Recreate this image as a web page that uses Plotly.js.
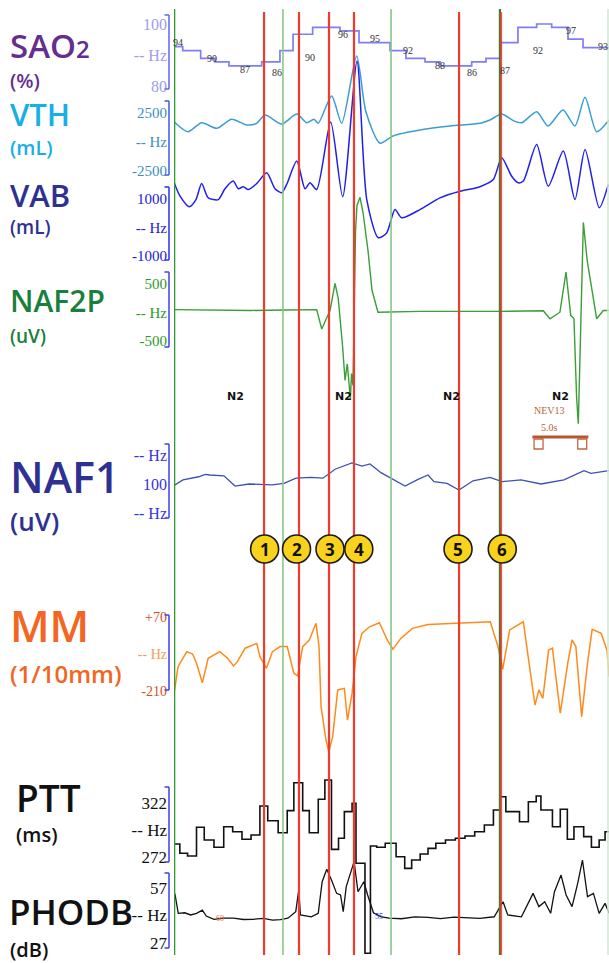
<!DOCTYPE html>
<html>
<head>
<meta charset="utf-8">
<script src="https://cdn.plot.ly/plotly-3.0.1.min.js"></script>
<style>
html,body{margin:0;padding:0;background:#fff;}
#chart{width:609px;height:963px;}
</style>
</head>
<body>
<div id="chart"></div>
<script>
// ---------------- DATA (time in seconds) ----------------
const tSao2 = [0, 0.78, 2.38, 3.66, 4.91, 7.83, 9.46, 10.63, 12.38, 14.82, 16.52, 19.29, 20.71, 22.41, 23.75, 26.58, 27.86, 29.17, 30.71, 32.38, 33.72, 35.18, 36.52, 38.84];
const sao2  = [92.7, 91.4, 88.9, 87.8, 86.5, 87.8, 91.4, 96.7, 98.9, 97.8, 94.0, 91.4, 88.9, 87.8, 86.5, 87.8, 88.9, 94.0, 98.9, 100, 98.9, 95.1, 92.4, 92.4];
const sao2LabelT = [0.36, 3.37, 6.34, 9.17, 12.14, 15.06, 17.95, 20.89, 23.75, 26.58, 29.55, 32.47, 35.42, 38.28];
const sao2LabelV = [94.0, 88.9, 85.2, 84.3, 89.3, 96.7, 95.4, 91.6, 86.5, 84.3, 84.9, 91.6, 97.8, 92.9];
const sao2LabelText = ['94','90','87','86','90','96','95','92','88','86','87','92','97','93'];

const tVth = [0, 1.25, 2.47, 3.81, 5.15, 6.49, 7.38, 8.13, 9.62, 10.96, 11.85, 12.5, 12.88, 14.08, 14.97, 16.31, 17.14, 18.39, 19.55, 21.96, 24.64, 27.32, 28.21, 29.26, 30.29, 31.04, 32.38, 33.39, 34.73, 35.8, 36.7, 37.74, 38.84];
const vth  = [1750, 890, 1660, 1180, 1960, 1470, 1610, 2330, 1550, 2410, 1660, 1960, 1610, 3970, 1610, 7410, 2590, -110, 520, 1030, 1380, 1610, 1900, 2410, 1840, 1660, 2610, 1380, 2760, 1380, 3850, 890, 1900];

const tVab = [0, 0.54, 1.37, 1.96, 2.47, 3.06, 3.96, 4.55, 5.29, 5.74, 6.19, 6.63, 7.38, 8.28, 9.02, 9.62, 10.06, 10.96, 11.7, 12.14, 12.74, 13.99, 15.06, 16.34, 17.21, 18.24, 18.99, 19.73, 20.33, 21.96, 23.75, 25.54, 27.32, 28.51, 29.26, 30.15, 30.74, 31.19, 32.38, 33.42, 34.76, 35.8, 36.7, 37.97, 38.78];
const vab  = [1590, 1100, 730, 980, 1540, 1040, 980, 1360, 1630, 1360, 1430, 1330, 1540, 1920, 1360, 1220, 1510, 2330, 1360, 1570, 1330, 3700, 1080, 5830, 980, -360, -190, 630, 340, 630, 1040, 1270, 1430, 1680, 2450, 1800, 1570, 1630, 2910, 1450, 2680, 980, 2740, 690, 1510];

const tNaf2p = [0, 3.0, 6.79, 10.0, 12.74, 13.19, 13.63, 13.93, 14.38, 14.67, 15.06, 15.27, 15.47, 15.65, 15.75, 15.85, 15.98, 16.21, 16.34, 16.61, 16.88, 17.32, 17.68, 18.21, 21.96, 29.11, 32.97, 33.57, 34.46, 35.0, 35.42, 35.71, 35.95, 36.1, 36.55, 36.9, 37.74, 38.33, 38.84];
const naf2p  = [50, 40, 35, 45, 50, -290, -110, 35, 510, 240, -610, -1190, -900, -1310, -1510, -1070, -1280, 1440, 1880, 2020, 1750, 1090, 390, 5, 20, 20, 30, -110, 5, 710, -50, -105, -1500, -1950, 1580, 900, -110, 35, 35];

const tNaf1 = [0, 0.09, 0.8, 1.5, 2.2, 2.8, 3.21, 4.46, 5.45, 6.7, 8.75, 9.82, 10.89, 12.23, 13.3, 14.38, 15.89, 16.79, 17.5, 18.48, 19.55, 20.63, 21.79, 22.68, 23.21, 24.38, 25.45, 26.7, 28.21, 29.29, 30.98, 32.77, 34.82, 36.61, 37.23, 38.66, 38.84];
const naf1  = [-3, -3, 14, 20, 25, 33, 31, 28, -7, 0, -3, 2, 20, 23, 20, 51, 73, 62, 69, 39, 16, -7, 16, 31, 8, 2, -21, 11, 23, 8, 14, 0, 14, 46, 37, 46, 46];

const tMm = [0.03, 0.36, 1.14, 1.66, 2.01, 2.53, 3.05, 4.09, 4.79, 5.31, 5.66, 6.35, 7.39, 7.67, 8.26, 8.79, 9.48, 10.11, 10.7, 11.04, 11.49, 12.08, 12.68, 12.95, 13.13, 13.57, 13.82, 14.17, 14.62, 15.21, 15.49, 15.9, 16.25, 16.78, 17.46, 18.34, 19.04, 19.55, 20.25, 21.29, 22.68, 25.45, 28.24, 28.93, 29.35, 29.97, 31.19, 31.54, 32.23, 32.58, 32.93, 33.45, 33.79, 34.49, 35.18, 35.54, 35.88, 36.4, 36.92, 37.34, 38.14, 38.66, 38.84];
const mm  = [-213, -118, -61, -70, -105, -179, -86, -61, -86, -115, -99, -48, -30, -80, -124, -61, -42, -42, -143, -153, -42, -17, 46, -42, -269, -395, -440, -383, -206, -200, -320, -219, -80, 8, 33, 48, -17, -52, -11, 27, 42, 48, 52, -42, -128, 21, 52, -55, -263, -206, -238, -55, -48, -294, -99, -17, -42, -307, -105, 23, 8, -55, -156];

const tPtt = [0, 0.52, 1.21, 2.01, 2.7, 3.57, 4.44, 5.24, 6.07, 6.88, 7.67, 8.37, 9.3, 10.11, 10.7, 11.49, 12.08, 12.88, 13.47, 14.06, 14.69, 15.21, 15.9, 16.25, 17.05, 17.54, 18.1, 18.86, 19.83, 20.6, 21.22, 21.98, 22.68, 23.38, 24.24, 25.12, 25.98, 26.85, 27.71, 28.52, 29.11, 29.63, 30.85, 31.64, 32.34, 32.76, 33.79, 34.49, 35.12, 35.71, 36.58, 37.27, 37.96, 38.49, 38.84];
const ptt  = [284.2, 275.7, 273.2, 299.5, 287.8, 281.2, 300, 295.4, 288.5, 292.4, 319, 305.5, 294.5, 314.7, 340.3, 314.7, 294.5, 325.1, 342.8, 279.3, 289.4, 313.8, 321.5, 266.5, 184.1, 282.3, 281.2, 284.8, 272.5, 261.9, 269.5, 275, 280.2, 284.8, 287.8, 289.4, 291.5, 295.4, 301.6, 315.3, 327.5, 313.8, 304.6, 322.9, 328.1, 315.3, 300, 316, 288.5, 300, 290.9, 281.2, 287.8, 295.4, 295.4];

const tPhodb = [0, 0.1, 0.38, 0.96, 1.49, 2.01, 2.53, 2.88, 3.57, 4.4, 5.31, 6.2, 7.04, 8.0, 8.79, 9.5, 10.17, 10.87, 11.14, 11.29, 12.26, 12.88, 13.23, 13.64, 14.06, 14.52, 14.87, 15.11, 15.38, 15.73, 16.08, 16.43, 16.95, 17.29, 17.81, 18.51, 19.21, 20.3, 21.5, 22.68, 23.8, 25.0, 26.16, 27.3, 28.59, 29.04, 29.38, 29.8, 31.02, 32.06, 32.58, 33.1, 33.63, 33.97, 34.56, 35.01, 35.54, 36.05, 36.47, 36.92, 37.45, 37.96, 38.49, 38.84];
const phodb  = [55, 53.3, 43.2, 43.5, 42.3, 43.2, 45, 41.7, 39.9, 40.6, 40.5, 39.8, 39.9, 40.4, 39.5, 39.7, 40.5, 44.1, 56.1, 42.3, 41.3, 43.2, 60.6, 67.5, 61.6, 54.2, 53.3, 44.1, 57.9, 64.3, 71.7, 55.1, 60.6, 53.3, 43.5, 41.3, 40.5, 40.2, 41.2, 41, 40.3, 41.1, 40.8, 40.4, 41.3, 46, 49.6, 42.3, 41.3, 54.2, 46.9, 49.6, 43.2, 55.1, 64.3, 53.3, 46.9, 59.8, 72.6, 52.4, 54.2, 43.2, 48.7, 43.2];

// events / annotations
const epochT = [0, 9.73, 19.38, 29.1, 38.75];
const eventT = [8.04, 11.16, 13.84, 16.07, 25.45, 29.2];
const eventNum = ['1','2','3','4','5','6'];
const eventLabelT = [8.09, 10.94, 13.93, 16.5, 25.36, 29.31];
const stageT = [5.45, 15.12, 24.79, 34.55];
const stageText = ['N2','N2','N2','N2'];
const scaleBarT = [32.0, 37.0];
const scaleBarText = '5.0s';
const eventCode = 'NEV13';

// ---------------- LAYOUT HELPERS ----------------
const W = 609, H = 963, X0 = 174;
const T_MAX = 38.84;
const py = p => 1 - p / H;            // pixel row -> paper y
const px = p => p / W;                // pixel col -> paper x

function rangeFor(vTop, pTop, vBot, pBot) {
  const k = (vTop - vBot) / (pBot - pTop);
  return [vTop - (H - pTop) * k, vTop + pTop * k];
}

const channels = [
  {name:'SAO2', t:tSao2, v:sao2, shape:'hv', color:'#7e7ef6', width:1.7,
   cal:[100,24,80,86], tickV:[100,90,80], tickT:['100','-- Hz','80'], tickColor:'#9d9df2', tickSize:16,
   bracket:[15,89], bColor:'#6c6cf0'},
  {name:'VTH', t:tVth, v:vth, shape:'spline', color:'#3b9dd3', width:1.5,
   cal:[2500,113,-2500,171], tickV:[2500,0,-2500], tickT:['2500','-- Hz','-2500'], tickColor:'#3c8fc4', tickSize:15,
   bracket:[101,175], bColor:'#4a62e6'},
  {name:'VAB', t:tVab, v:vab, shape:'spline', color:'#2020ee', width:1.5,
   cal:[1000,199,-1000,256], tickV:[1000,0,-1000], tickT:['1000','-- Hz','-1000'], tickColor:'#2020d8', tickSize:15,
   bracket:[187,260], bColor:'#3a3aee'},
  {name:'NAF2P', t:tNaf2p, v:naf2p, shape:'linear', color:'#3a9e3a', width:1.4,
   cal:[500,284,-500,341], tickV:[500,0,-500], tickT:['500','-- Hz','-500'], tickColor:'#2a9a2a', tickSize:15,
   bracket:[272,347], bColor:'#4a4aee'},
  {name:'NAF1', t:tNaf1, v:naf1, shape:'linear', color:'#3c50b4', width:1.3,
   cal:[100,455,-100,513], tickV:[100,0,-100], tickT:['-- Hz','100','-- Hz'], tickColor:'#3434de', tickSize:16,
   bracket:[444,518], bColor:'#4a4aee'},
  {name:'MM', t:tMm, v:mm, shape:'linear', color:'#ff8a1c', width:1.5,
   cal:[70,617,-210,691], tickV:[70,-70,-210], tickT:['+70','<span style="color:#f0a050">-- Hz</span>','-210'], tickColor:'#d2521e', tickSize:14,
   bracket:[615,690], bColor:'#4a4aee'},
  {name:'PTT', t:tPtt, v:ptt, shape:'hv', color:'#111111', width:1.6,
   cal:[322,802.7,272,857.3], tickV:[322,297,272], tickT:['322','-- Hz','272'], tickColor:'#111111', tickSize:17,
   bracket:[787,862], bColor:'#4a4aee'},
  {name:'PHODB', t:tPhodb, v:phodb, shape:'linear', color:'#111111', width:1.3,
   cal:[57,888.3,27,942.7], tickV:[57,42,27], tickT:['57','-- Hz','27'], tickColor:'#111111', tickSize:17,
   bracket:[873,948], bColor:'#4a4aee'}
];

const traces = [];
const layout = {
  width: W, height: H,
  margin: {l:0, r:0, t:0, b:0},
  paper_bgcolor: '#ffffff', plot_bgcolor: '#ffffff',
  showlegend: false,
  xaxis: {domain:[X0/W, 1], range:[0, T_MAX], visible:false, fixedrange:true},
  shapes: [], annotations: []
};

channels.forEach((c, i) => {
  const axName = i === 0 ? 'yaxis' : 'yaxis' + (i + 1);
  const axRef = i === 0 ? 'y' : 'y' + (i + 1);
  const ax = {
    domain:[0,1], range: rangeFor(c.cal[0], c.cal[1], c.cal[2], c.cal[3]),
    showgrid:false, zeroline:false, showline:false, ticks:'',
    tickmode:'array', tickvals:c.tickV, ticktext:c.tickT,
    tickfont:{family:'Liberation Serif, serif', size:c.tickSize, color:c.tickColor},
    ticklabelstandoff: 6, anchor:'x', side:'left', fixedrange:true
  };
  if (i > 0) ax.overlaying = 'y';
  layout[axName] = ax;
  traces.push({
    type:'scatter', mode:'lines', x:c.t, y:c.v, yaxis:axRef, xaxis:'x',
    line:{color:c.color, width:c.width, shape:c.shape, smoothing: c.shape === 'spline' ? 0.7 : undefined},
    hoverinfo:'skip', cliponaxis:false
  });
  // calibration bracket
  const bx = px(169), cap = px(164.5);
  const b = {xref:'paper', yref:'paper', type:'line', line:{color:c.bColor, width:1.6}};
  layout.shapes.push(Object.assign({}, b, {x0:bx, x1:bx, y0:py(c.bracket[0]), y1:py(c.bracket[1])}));
  layout.shapes.push(Object.assign({}, b, {x0:cap, x1:bx, y0:py(c.bracket[0]), y1:py(c.bracket[0])}));
  layout.shapes.push(Object.assign({}, b, {x0:cap, x1:bx, y0:py(c.bracket[1]), y1:py(c.bracket[1])}));
});

// SpO2 step value labels
sao2LabelT.forEach((t, i) => {
  layout.annotations.push({xref:'x', yref:'y', x:t, y:sao2LabelV[i], text:sao2LabelText[i], showarrow:false,
    font:{family:'Liberation Serif, serif', size:10, color:'#333333'}});
});

// epoch boundary lines (green)
const epochStyle = [
  {color:'#2f9a2f', width:2.6},
  {color:'#86c986', width:1.6},
  {color:'#86c986', width:1.6},
  {color:'#3f7f2f', width:2.2},
  {color:'#d2ead2', width:1.6}
];
epochT.forEach((t, i) => {
  layout.shapes.push({type:'line', xref:'x', yref:'paper', x0:t, x1:t, y0:py(955), y1:py(9),
    line:epochStyle[i], layer:'above'});
});
// event lines (red)
eventT.forEach((t, i) => {
  layout.shapes.push({type:'line', xref:'x', yref:'paper', x0:t, x1:t, y0:py(955), y1:py(12),
    line:{color: i === 5 ? 'rgba(226,58,40,0.85)' : '#ef3b2c', width:2.2}, layer:'above'});
});
// event number circles
eventLabelT.forEach((t, i) => {
  layout.shapes.push({type:'circle', xref:'x', yref:'paper', xsizemode:'pixel', ysizemode:'pixel',
    xanchor:t, yanchor:py(549), x0:-14, x1:14, y0:-14, y1:14,
    fillcolor:'#f8d21c', line:{color:'#1a1a1a', width:1.6}, layer:'above'});
  layout.annotations.push({xref:'x', yref:'paper', x:t, y:py(549.5), text:'<b>'+eventNum[i]+'</b>', showarrow:false,
    font:{family:'Open Sans, sans-serif', size:17, color:'#111111'}});
});

// sleep stage labels
stageT.forEach((t, i) => {
  layout.annotations.push({xref:'x', yref:'paper', x:t, y:py(396), text:'<b>'+stageText[i]+'</b>', showarrow:false,
    font:{family:'DejaVu Sans, sans-serif', size:11, color:'#111111'}});
});

// scale bar
const sbColor = '#b8552c';
layout.shapes.push({type:'line', xref:'x', yref:'paper', x0:scaleBarT[0], x1:scaleBarT[1], y0:py(437), y1:py(437),
  line:{color:sbColor, width:3}, layer:'above'});
[[0.15, 0.95], [4.05, 4.85]].forEach(([a, b]) => {
  layout.shapes.push({type:'rect', xref:'x', yref:'paper', x0:scaleBarT[0]+a, x1:scaleBarT[0]+b, y0:py(449), y1:py(439),
    line:{color:'#c4663e', width:1.3}, fillcolor:'#ffffff', layer:'above'});
});
layout.annotations.push({xref:'x', yref:'paper', x:33.57, y:py(411), text:eventCode, showarrow:false,
  font:{family:'Liberation Serif, serif', size:10, color:'#b5653a'}});
layout.annotations.push({xref:'x', yref:'paper', x:33.57, y:py(427), text:scaleBarText, showarrow:false,
  font:{family:'Liberation Serif, serif', size:10, color:'#b5653a'}});

// tiny markers on PHODB
layout.annotations.push({xref:'x', yref:'y8', x:4.09, y:40.6, text:'60', showarrow:false,
  font:{family:'Liberation Serif, serif', size:8, color:'#e06a30'}});
layout.annotations.push({xref:'x', yref:'y8', x:18.34, y:41.5, text:'55', showarrow:false,
  font:{family:'Liberation Serif, serif', size:8, color:'#3a3aee'}});

// channel titles on the left
const F = 'Open Sans, sans-serif';
const leftLabels = [
  ['SAO<span style="font-size:24px">2</span>', 8, 45, 33, '#652d8e'],
  ['(%)', 8, 80, 20, '#652d8e'],
  ['VTH', 8, 114, 31, '#18aee6'],
  ['(mL)', 8, 147, 20, '#18aee6'],
  ['VAB', 8, 195, 31, '#2e3192'],
  ['(mL)', 8, 227, 19, '#2e3192'],
  ['NAF2P', 8, 300, 30, '#1a7f3c'],
  ['(uV)', 8, 336, 19, '#1a7f3c'],
  ['NAF1', 8, 476, 43, '#2e3192'],
  ['(uV)', 8, 521, 26, '#2e3192'],
  ['MM', 8, 625, 43, '#f26522'],
  ['(1/10mm)', 8, 673, 24, '#f26522'],
  ['PTT', 14, 797, 37, '#111111'],
  ['(ms)', 14, 834, 20, '#111111'],
  ['PHODB', 7, 911, 35, '#111111'],
  ['(dB)', 8, 949, 20, '#111111']
];
leftLabels.forEach(([txt, x, y, size, color]) => {
  layout.annotations.push({xref:'paper', yref:'paper', x:px(x), y:py(y), xanchor:'left', yanchor:'middle',
    text:txt, showarrow:false, font:{family:F, size:size, color:color, weight:600}});
});

Plotly.newPlot('chart', traces, layout, {staticPlot:true, displayModeBar:false});
</script>
</body>
</html>
